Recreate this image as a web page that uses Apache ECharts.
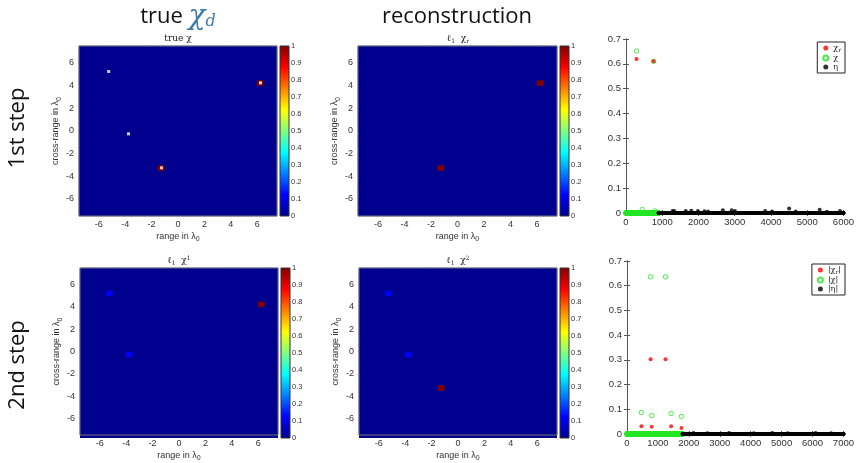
<!DOCTYPE html>
<html>
<head>
<meta charset="utf-8">
<script src="https://cdn.jsdelivr.net/npm/echarts@6/dist/echarts.min.js"></script>
<style>
html,body{margin:0;padding:0;background:#fff}
#main{width:857px;height:463px}
</style>
</head>
<body>
<div id="main"></div>
<script>
// images: 30 x 30 cells of 0.5 lambda, from -7.5 to 7.5
const nCells = 30
const imgMin = -7.5
const imgMax = 7.5
const imgTicks = [-6, -4, -2, 0, 2, 4, 6]

// non zero cells: [range, cross-range, value]
const trueChi = [[-1.25, -3.25, 1], [6.25, 4.25, 1]]
const scatterers = [[-5.25, 5.25], [-3.75, -0.25], [-1.25, -3.25], [6.25, 4.25]]
const recChi = [[-1.25, -3.25, 1], [6.25, 4.25, 1]]
const l1Chi1 = [[-5.25, 5.25, 0.11], [-3.75, -0.25, 0.11], [6.25, 4.25, 1]]
const l1Chi2 = [[-5.25, 5.25, 0.11], [-3.75, -0.25, 0.11], [-1.25, -3.25, 1]]

// jet colormap
const jet = ['#00008f', '#0000ff', '#0080ff', '#00ffff', '#80ff80', '#ffff00', '#ff8000', '#ff0000', '#800000']
const cbarTicks = [0, 1]

// 1st step vectors: chi (1..900) then eta (901..6000), [index, value] of non zeros
const step1ChiLen = 900
const step1EtaLen = 5100
const step1ChiR = [[290, 0.62], [760, 0.61]]
const step1Chi = [[290, 0.652], [450, 0.014], [760, 0.61], [797, 0.008]]
const step1Eta = [[1286, 0.008], [1331, 0.008], [1649, 0.008], [1802, 0.009], [1984, 0.008], [2165, 0.007],
    [2264, 0.006], [2672, 0.011], [2917, 0.011], [3007, 0.008], [3841, 0.008], [4031, 0.006],
    [4502, 0.018], [4683, 0.006], [5344, 0.013], [5543, 0.005], [5906, 0.008]]

// 2nd step vectors: chi (1..1800) then eta (1801..7000)
const step2ChiLen = 1800
const step2EtaLen = 5200
const step2ChiR = [[467, 0.031], [764, 0.302], [800, 0.029], [1247, 0.302], [1428, 0.031], [1762, 0.024]]
const step2Chi = [[467, 0.087], [764, 0.636], [800, 0.075], [1247, 0.636], [1428, 0.083], [1762, 0.071]]
const step2Eta = [[2150, 0.004], [2600, 0.003], [3300, 0.004], [4100, 0.003], [4700, 0.004], [5200, 0.003], [6100, 0.004], [6600, 0.003]]

const sans = 'Liberation Sans'
const serif = 'DejaVu Serif'
const subRich = {s: {fontSize: 7, padding: [6, 0, 0, 0]}}

const cellCenters = []
for (let k = 0; k < nCells; k++) cellCenters.push((imgMin + (k + 0.5) * (imgMax - imgMin) / nCells).toFixed(2))

function imageData(cells) {
    const out = []
    for (let i = 0; i < nCells; i++)
        for (let j = 0; j < nCells; j++) out.push([i, j, 0])
    const step = (imgMax - imgMin) / nCells
    cells.forEach(c => {
        const i = Math.floor((c[0] - imgMin) / step)
        const j = Math.floor((c[1] - imgMin) / step)
        out[i * nCells + j][2] = c[2]
    })
    return out
}

function vector(start, len, nonzero) {
    const m = new Map(nonzero)
    const out = []
    for (let k = start; k < start + len; k++) out.push([k, m.has(k) ? m.get(k) : 0])
    return out
}

const grid = [], xAxis = [], yAxis = [], series = [], heatIdx = []

function addImage(g, cells, dots) {
    // backdrop in the colour of 0 so cell seams do not show
    grid.push({left: g.left, top: g.top, width: g.width, height: g.height, show: true, backgroundColor: jet[0], borderWidth: 0, z: 0})
    const gi = grid.length
    grid.push({left: g.left, top: g.top, width: g.width, height: g.height, show: true, borderColor: '#777', borderWidth: 1, z: 5})
    const xc = xAxis.length, yc = yAxis.length
    xAxis.push({gridIndex: gi, type: 'category', data: cellCenters, show: false})
    yAxis.push({gridIndex: gi, type: 'category', data: cellCenters, show: false})
    xAxis.push({gridIndex: gi, type: 'value', min: imgMin, max: imgMax, position: 'bottom',
        splitLine: {show: false}, axisLine: {show: false}, axisTick: {show: false},
        axisLabel: {customValues: imgTicks, fontSize: 9, color: '#333', fontFamily: sans, margin: 4},
        name: 'range in λ{s|0}', nameLocation: 'middle', nameGap: 14,
        nameTextStyle: {fontSize: 9, color: '#333', fontFamily: sans, rich: subRich}})
    yAxis.push({gridIndex: gi, type: 'value', min: imgMin, max: imgMax, position: 'left',
        splitLine: {show: false}, axisLine: {show: false}, axisTick: {show: false},
        axisLabel: {customValues: imgTicks, fontSize: 9, color: '#333', fontFamily: sans, margin: 5},
        name: 'cross-range in λ{s|0}', nameLocation: 'middle', nameGap: 14,
        nameTextStyle: {fontSize: 9, color: '#333', fontFamily: sans, rich: subRich}})
    heatIdx.push(series.length)
    series.push({type: 'heatmap', xAxisIndex: xc, yAxisIndex: yc, data: imageData(cells), silent: true})
    if (dots) {
        series.push({type: 'scatter', xAxisIndex: xc + 1, yAxisIndex: yc + 1, data: dots, symbol: 'rect',
            symbolSize: 3, itemStyle: {color: '#fff'}, z: 4, silent: true})
    }
    // colorbar
    const ci = grid.length
    grid.push({left: g.left + g.width + 3, top: g.top, width: 9, height: g.height, show: true, borderColor: '#333', borderWidth: 1, z: 5})
    xAxis.push({gridIndex: ci, type: 'category', data: ['c'], show: false})
    yAxis.push({gridIndex: ci, type: 'value', min: cbarTicks[0], max: cbarTicks[1], interval: 0.1, position: 'right',
        splitLine: {show: false}, axisLine: {show: false},
        axisTick: {inside: true, length: 2, lineStyle: {color: '#333'}},
        axisLabel: {fontSize: 7.5, color: '#333', fontFamily: sans, margin: 2}})
    series.push({type: 'bar', xAxisIndex: xAxis.length - 1, yAxisIndex: yAxis.length - 1, data: [cbarTicks[1]],
        barWidth: '100%', silent: true,
        itemStyle: {color: new echarts.graphic.LinearGradient(0, 1, 0, 0,
                jet.map((c, k) => ({offset: k / (jet.length - 1), color: c})))}})
}

function addPlot(g, xMax, xInt, names, chiR, chi, eta, legendTop) {
    const gi = grid.length
    grid.push({left: g.left, top: g.top, width: g.width, height: g.height})
    const xb = xAxis.length, yl = yAxis.length
    const lineStyle = {color: '#555'}
    xAxis.push({gridIndex: gi, type: 'value', min: 0, max: xMax, interval: xInt, position: 'bottom',
        splitLine: {show: false}, axisLine: {lineStyle}, axisTick: {inside: true, length: 3, lineStyle},
        axisLabel: {fontSize: 9.5, color: '#333', fontFamily: sans, margin: 4, formatter: v => String(v)}})
    xAxis.push({gridIndex: gi, type: 'value', min: 0, max: xMax, interval: xInt, position: 'top',
        splitLine: {show: false}, axisLine: {lineStyle}, axisTick: {inside: true, length: 3, lineStyle},
        axisLabel: {show: false}})
    yAxis.push({gridIndex: gi, type: 'value', min: 0, max: 0.7, interval: 0.1, position: 'left',
        splitLine: {show: false}, axisLine: {lineStyle}, axisTick: {inside: true, length: 3, lineStyle},
        axisLabel: {fontSize: 9.5, color: '#333', fontFamily: sans, margin: 5}})
    yAxis.push({gridIndex: gi, type: 'value', min: 0, max: 0.7, interval: 0.1, position: 'right',
        splitLine: {show: false}, axisLine: {lineStyle}, axisTick: {inside: true, length: 3, lineStyle},
        axisLabel: {show: false}})
    series.push({type: 'scatter', name: names[0], xAxisIndex: xb, yAxisIndex: yl, data: chiR,
        symbol: 'circle', symbolSize: 4, itemStyle: {color: '#ff0000'}, z: 4, silent: true})
    series.push({type: 'scatter', name: names[1], xAxisIndex: xb, yAxisIndex: yl, data: chi,
        symbol: 'circle', symbolSize: 4.5, itemStyle: {color: 'rgba(0,0,0,0)', borderColor: '#22e622', borderWidth: 1},
        z: 3, silent: true})
    series.push({type: 'scatter', name: names[2], xAxisIndex: xb, yAxisIndex: yl, data: eta,
        symbol: 'circle', symbolSize: 4, itemStyle: {color: '#000'}, z: 3, silent: true})
    return {
        data: names, orient: 'vertical', right: 857 - g.left - g.width + 2, top: legendTop,
        itemWidth: 5, itemHeight: 5, itemGap: 1, padding: [2, 4, 2, 5],
        borderColor: '#222', borderWidth: 1, backgroundColor: '#fff', selectedMode: false,
        formatter: n => n.replace('χr', 'χ{s|r}'),
        textStyle: {fontSize: 8, fontFamily: serif, color: '#222', rich: {s: {fontSize: 6, fontFamily: serif, padding: [4, 0, 0, 0]}}}
    }
}

addImage({left: 79, top: 46, width: 198, height: 170}, trueChi, scatterers)
addImage({left: 358, top: 46, width: 199, height: 170}, recChi, null)
addImage({left: 80, top: 268, width: 198, height: 170}, l1Chi1, null)
addImage({left: 359, top: 268, width: 198, height: 170}, l1Chi2, null)

const legend = [
    addPlot({left: 626, top: 39, width: 221, height: 174}, 6000, 1000, ['χr', 'χ', 'η'],
        step1ChiR, vector(1, step1ChiLen, step1Chi), vector(step1ChiLen + 1, step1EtaLen, step1Eta), 42),
    addPlot({left: 627, top: 261, width: 220, height: 173}, 7000, 1000, ['|χr|', '|χ|', '|η|'],
        step2ChiR, vector(1, step2ChiLen, step2Chi), vector(step2ChiLen + 1, step2EtaLen, step2Eta), 264)
]

const titleRich = {
    s: {fontSize: 6, fontFamily: serif, fill: '#222', padding: [4, 0, 0, 0]},
    p: {fontSize: 6, fontFamily: serif, fill: '#222', padding: [0, 0, 5, 0]}
}
function plotTitle(x, y, text) {
    return {type: 'text', x, y, silent: true,
        style: {text, align: 'center', verticalAlign: 'middle', fontSize: 9, fontFamily: serif, fill: '#222', rich: titleRich}}
}
function header(x, y, text, rotation, rich) {
    return {type: 'text', x, y, rotation: rotation || 0, silent: true,
        style: {text, align: 'center', verticalAlign: 'middle', fontSize: 22, fontFamily: 'Open Sans', fill: '#111', rich: rich || {}}}
}

const graphic = [
    header(178, 17, 'true {c|χ}{d|d}', 0, {
        c: {fontSize: 28, fontFamily: serif, fontStyle: 'italic', fill: '#3b7ca6'},
        d: {fontSize: 16, fontFamily: serif, fontStyle: 'italic', fill: '#3b7ca6', padding: [10, 0, 0, 0]}
    }),
    header(457, 17, 'reconstruction'),
    header(18, 128, '1st step', Math.PI / 2),
    header(18, 365, '2nd step', Math.PI / 2),
    plotTitle(178, 39, 'true χ'),
    plotTitle(458, 39, 'ℓ{s|1}  χ{s|r}'),
    plotTitle(179, 261, 'ℓ{s|1}  χ{p|1}'),
    plotTitle(458, 261, 'ℓ{s|1}  χ{p|2}')
]

const chart = echarts.init(document.getElementById('main'))
chart.setOption({
    animation: false,
    grid, xAxis, yAxis, series, legend, graphic,
    visualMap: {show: false, type: 'continuous', min: 0, max: 1, seriesIndex: heatIdx, inRange: {color: jet}}
})
</script>
</body>
</html>
